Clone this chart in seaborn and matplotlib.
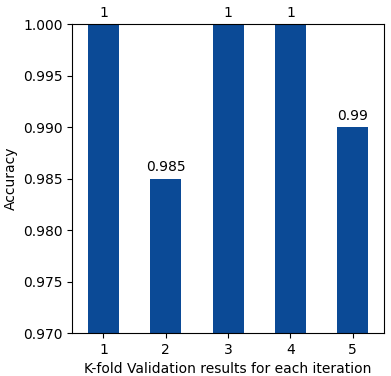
import pandas as pd
import seaborn as sns
import matplotlib
matplotlib.use("Agg")
import matplotlib.pyplot as plt

# K-fold results
folds = ['1', '2', '3', '4', '5']
accuracy = [1.0, 0.985, 1.0, 1.0, 0.99]

df = pd.DataFrame({'Fold': folds, 'Accuracy': accuracy})

fig, ax = plt.subplots(figsize=(3.91, 3.76), dpi=100)
g = sns.barplot(data=df, x='Fold', y='Accuracy', color='#0b4a96',
                saturation=1, width=0.5, ax=ax)
ax.bar_label(ax.containers[0], fmt='%g', padding=3, fontsize=10)
ax.set_ylim(0.97, 1.0)
ax.set_xlim(-0.5, 4.5)
ax.set_yticks([0.970, 0.975, 0.980, 0.985, 0.990, 0.995, 1.000])
ax.set_yticklabels(['%.3f' % v for v in ax.get_yticks()])
g.set(xlabel='K-fold Validation results for each iteration', ylabel='Accuracy')
fig.subplots_adjust(left=0.185, right=0.982, top=0.936, bottom=0.114)
plt.savefig('out.png', dpi=100)
